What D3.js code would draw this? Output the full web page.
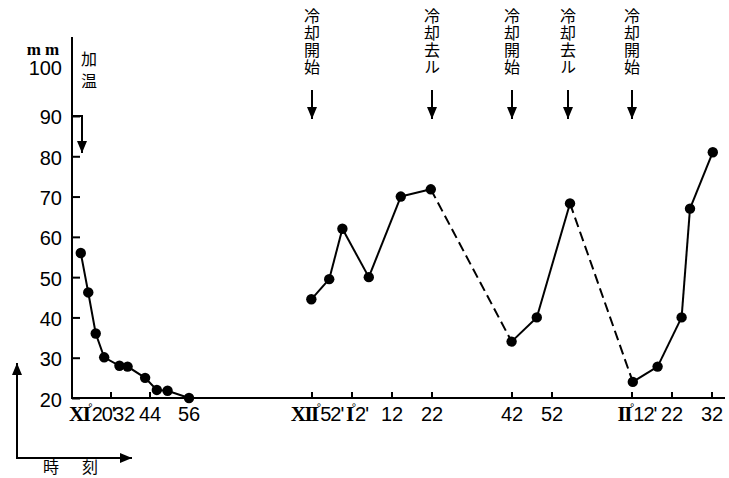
<!DOCTYPE html>
<html lang="ja">
<head>
<meta charset="UTF-8">
<title>冷却と時刻</title>
<script src="https://d3js.org/d3.v7.min.js"></script>
<style>
    body { margin: 0; background: #fff; }
    svg { display: block; }
    .num { font-family: "Liberation Sans", Arial, sans-serif; font-size: 20px; }
    .roman { font-family: "Liberation Serif", serif; font-weight: bold; font-size: 21px; letter-spacing: -1.5px; }
    .jp { font-family: "Noto Sans CJK JP", sans-serif; font-size: 16px; }
    .vert { writing-mode: vertical-rl; }
</style>
</head>
<body>
<script>
// time = minutes after 11:00 (XI°)
const leftTimes  = [22.7, 25.0, 27.3, 29.9, 34.6, 37.1, 42.5, 46.1, 49.4, 56.0];
const leftValues = [56, 46.2, 36, 30.1, 28, 27.8, 25, 22, 21.8, 20];

const rightTimes  = [111.7, 116.3, 119.6, 126.2, 134.2, 141.7, 161.9, 168.2, 176.5, 192.2, 198.4, 204.4, 206.5, 212.2];
const rightValues = [44.5, 49.5, 62, 50, 70, 71.8, 34, 40, 68.3, 24, 27.8, 40, 67, 81];

const eventTimes  = [112, 142, 162, 176, 192];
const eventLabels = ["冷却開始", "冷却去ル", "冷却開始", "冷却去ル", "冷却開始"];

const yTicks = [20, 30, 40, 50, 60, 70, 80, 90, 100];

const xTickTimes = [32, 44, 112, 122, 132, 142, 162, 172, 192, 202, 212];
const xLabelTimes = [20, 32, 44, 56, 112, 122, 132, 142, 162, 172, 192, 202, 212];
const xLabelRoman = ["XI", "", "", "", "XII", "I", "", "", "", "", "II", "", ""];
const xLabelMin   = ["20'", "32", "44", "56", "52'", "2'", "12", "22", "42", "52", "12'", "22", "32"];

const width = 729, height = 478;
const svg = d3.select("body").append("svg")
    .attr("width", width)
    .attr("height", height);

const defs = svg.append("defs");
defs.append("marker")
    .attr("id", "head")
    .attr("viewBox", "0 0 12 10")
    .attr("refX", 12).attr("refY", 5)
    .attr("markerWidth", 12).attr("markerHeight", 10)
    .attr("markerUnits", "userSpaceOnUse")
    .attr("orient", "auto")
    .append("path")
    .attr("d", "M0,0 L12,5 L0,10 Z")
    .attr("fill", "#000");

// broken time axis: two linear pieces
const x = d3.scaleLinear()
    .domain([20, 56, 112, 212])
    .range([72, 189, 312, 712]);

const y = d3.scaleLinear()
    .domain([20, 100])
    .range([398, 75.7]);

const x0 = 72, y0 = 398;

// y axis
const yAxis = svg.append("g")
    .attr("transform", `translate(${x0},0)`)
    .call(d3.axisLeft(y).tickValues(yTicks).tickSize(-8).tickPadding(10));
yAxis.select(".domain").remove();
yAxis.selectAll(".tick line").attr("stroke", "#000").attr("stroke-width", 2)
    .filter(d => d === 100).remove();
yAxis.selectAll(".tick text").attr("class", "num").attr("fill", "#000")
    .attr("dy", d => d === 100 ? "-0.05em" : "0.4em");

svg.append("line")
    .attr("x1", x0).attr("x2", x0)
    .attr("y1", 37).attr("y2", y0 + 1)
    .attr("stroke", "#000").attr("stroke-width", 2);

svg.append("text")
    .attr("x", 45).attr("y", 55)
    .attr("text-anchor", "middle")
    .attr("font-family", "Liberation Serif, serif")
    .attr("font-weight", "bold")
    .attr("font-size", 17)
    .attr("letter-spacing", 4)
    .text("mm");

// x axis
svg.append("line")
    .attr("x1", x0).attr("x2", 725)
    .attr("y1", y0).attr("y2", y0)
    .attr("stroke", "#000").attr("stroke-width", 2);

svg.append("g").selectAll("line")
    .data(xTickTimes)
    .join("line")
    .attr("x1", d => x(d)).attr("x2", d => x(d))
    .attr("y1", y0).attr("y2", y0 - 6)
    .attr("stroke", "#000").attr("stroke-width", 2);

const labels = svg.append("g").selectAll("text")
    .data(xLabelTimes)
    .join("text")
    .attr("class", "num")
    .attr("y", 421)
    .attr("x", (d, i) => i === 0 ? x(d) - 3 : x(d) + (xLabelRoman[i] ? 5 : 0))
    .attr("text-anchor", (d, i) => i === 0 ? "start" : "middle");

labels.each(function(d, i) {
    const t = d3.select(this);
    if (xLabelRoman[i]) {
        t.append("tspan").attr("class", "roman").text(xLabelRoman[i]);
        t.append("tspan").attr("font-size", 11).attr("dx", -1).attr("dy", -10).text("°");
        t.append("tspan").attr("dx", -1).attr("dy", 10)
            .attr("letter-spacing", -1).text(xLabelMin[i]);
    } else {
        t.text(xLabelMin[i]);
    }
});

// push labels right where they collide with the previous one
let prevRight = -Infinity;
labels.each(function() {
    const b = this.getBBox();
    const overlap = prevRight - b.x - 2;
    if (overlap > 0) {
        d3.select(this).attr("x", +d3.select(this).attr("x") + overlap);
        prevRight = b.x + b.width + overlap;
    } else {
        prevRight = b.x + b.width;
    }
});

// heating marker
svg.append("text")
    .attr("class", "jp vert")
    .attr("x", 89).attr("y", 51)
    .attr("font-size", 17)
    .attr("letter-spacing", 6)
    .text("加温");
svg.append("path")
    .attr("d", `M${x0},${y(90)} H82 V153`)
    .attr("fill", "none")
    .attr("stroke", "#000").attr("stroke-width", 2)
    .attr("marker-end", "url(#head)");

// cooling events
const ev = svg.append("g").selectAll("g")
    .data(eventTimes)
    .join("g")
    .attr("transform", d => `translate(${x(d)},0)`);

ev.append("line")
    .attr("y1", 90).attr("y2", 119)
    .attr("stroke", "#000").attr("stroke-width", 2)
    .attr("marker-end", "url(#head)");

ev.append("text")
    .attr("class", "jp vert")
    .attr("x", 0).attr("y", 8)
    .attr("letter-spacing", 1)
    .text((d, i) => eventLabels[i]);

// data lines
const line = d3.line().x(d => x(d[0])).y(d => y(d[1]));
const leftPts = leftTimes.map((t, i) => [t, leftValues[i]]);
const rightPts = rightTimes.map((t, i) => [t, rightValues[i]]);

svg.append("path")
    .datum(leftPts)
    .attr("d", line)
    .attr("fill", "none")
    .attr("stroke", "#000").attr("stroke-width", 2);

// dashed while cooling is removed
function coolingOff(t) {
    let state = false;
    eventTimes.forEach((e, i) => {
        if (e <= t) state = eventLabels[i] === "冷却去ル";
    });
    return state;
}

const segs = d3.pairs(rightPts);
svg.append("g").selectAll("path")
    .data(segs)
    .join("path")
    .attr("d", d => line(d))
    .attr("fill", "none")
    .attr("stroke", "#000").attr("stroke-width", 2)
    .attr("stroke-dasharray", d => coolingOff((d[0][0] + d[1][0]) / 2) ? "10,5" : null);

svg.append("g").selectAll("circle")
    .data(leftPts.concat(rightPts))
    .join("circle")
    .attr("cx", d => x(d[0]))
    .attr("cy", d => y(d[1]))
    .attr("r", 5.2)
    .attr("fill", "#000");

// time arrow, bottom left
svg.append("line")
    .attr("x1", 17).attr("x2", 17).attr("y1", 459).attr("y2", 363)
    .attr("stroke", "#000").attr("stroke-width", 2)
    .attr("marker-end", "url(#head)");
svg.append("line")
    .attr("x1", 16).attr("x2", 132).attr("y1", 458).attr("y2", 458)
    .attr("stroke", "#000").attr("stroke-width", 2)
    .attr("marker-end", "url(#head)");
svg.append("text").attr("class", "jp").attr("x", 43).attr("y", 473).text("時");
svg.append("text").attr("class", "jp").attr("x", 82).attr("y", 473).text("刻");
</script>
</body>
</html>
